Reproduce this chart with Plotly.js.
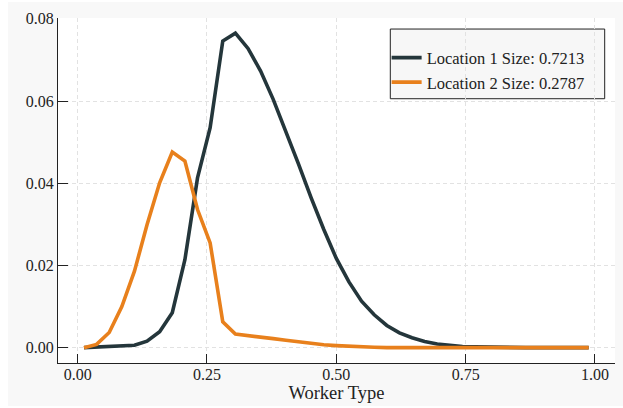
<!DOCTYPE html>
<html>
<head>
<meta charset="utf-8">
<script src="https://cdn.plot.ly/plotly-3.0.1.min.js"></script>
<style>
html, body { margin: 0; padding: 0; background: #ffffff; }
#chart { position: absolute; left: 8px; top: 2px; width: 615px; height: 404px; }
</style>
</head>
<body>
<div id="chart"></div>
<script>
// Worker type grid (x values)
var workerType = [0.0122, 0.0366, 0.0610, 0.0854, 0.1098, 0.1341, 0.1585, 0.1829, 0.2073, 0.2317,
  0.2561, 0.2805, 0.3049, 0.3293, 0.3537, 0.3780, 0.4024, 0.4268, 0.4512, 0.4756,
  0.5000, 0.5244, 0.5488, 0.5732, 0.5976, 0.6220, 0.6463, 0.6707, 0.6951, 0.7195,
  0.7439, 0.7683, 0.7927, 0.8171, 0.8415, 0.8659, 0.8902, 0.9146, 0.9390, 0.9634, 0.9878];

// Location 1 distribution
var location1 = [0.0000, 0.0001, 0.0002, 0.0003, 0.0006, 0.0016, 0.0039, 0.0085, 0.0214, 0.0413,
  0.0535, 0.0746, 0.0765, 0.0728, 0.0673, 0.0604, 0.0528, 0.0447, 0.0365, 0.0288,
  0.0217, 0.0160, 0.0113, 0.0080, 0.0054, 0.0036, 0.0024, 0.0015, 0.0009, 0.0005,
  0.0003, 0.0002, 0.0001, 0.0000, 0.0000, 0.0000, 0.0000, 0.0000, 0.0000, 0.0000, 0.0000];

// Location 2 distribution
var location2 = [0.0000, 0.0008, 0.0037, 0.0100, 0.0186, 0.0299, 0.0401, 0.0476, 0.0454, 0.0336,
  0.0255, 0.0063, 0.0033, 0.0030, 0.0026, 0.0022, 0.0018, 0.0014, 0.0010, 0.0007,
  0.0005, 0.0003, 0.0002, 0.0001, 0.0000, 0.0000, 0.0000, 0.0000, 0.0000, 0.0000,
  0.0000, 0.0000, 0.0000, 0.0000, 0.0000, 0.0000, 0.0000, 0.0000, 0.0000, 0.0000, 0.0000];

var seriesNames = ["Location 1 Size: 0.7213", "Location 2 Size: 0.2787"];
var xTickVals = [0.00, 0.25, 0.50, 0.75, 1.00];
var yTickVals = [0.00, 0.02, 0.04, 0.06, 0.08];
var xTitle = "Worker Type";

var FONT = "'Liberation Serif', 'DejaVu Serif', serif";

var traces = [
  { x: workerType, y: location1, mode: "lines", name: seriesNames[0],
    line: { color: "#24363b", width: 3.6 }, hoverinfo: "skip" },
  { x: workerType, y: location2, mode: "lines", name: seriesNames[1],
    line: { color: "#e8801c", width: 3.6 }, hoverinfo: "skip" }
];

var axisCommon = {
  showline: true, linecolor: "#222222", linewidth: 1, mirror: false,
  ticks: "inside", tickcolor: "#222222", tickwidth: 1,
  showgrid: true, gridcolor: "#e2e2e2", gridwidth: 1, griddash: "4px,3px",
  zeroline: false, tickformat: ".2f",
  tickfont: { family: FONT, size: 16, color: "#222222" }
};

var layout = {
  width: 615, height: 404,
  paper_bgcolor: "#f8f8f8", plot_bgcolor: "#ffffff",
  margin: { l: 50, r: 8, t: 16, b: 43, pad: 0 },
  showlegend: true,
  font: { family: FONT, color: "#222222" },
  xaxis: Object.assign({}, axisCommon, {
    range: [-0.038, 1.0387], tickmode: "array", tickvals: xTickVals, ticklen: 9,
    ticklabelstandoff: -3,
    title: { text: xTitle, font: { family: FONT, size: 18.5, color: "#222222" }, standoff: 2 }
  }),
  yaxis: Object.assign({}, axisCommon, {
    range: [-0.00373, 0.0802], tickmode: "array", tickvals: yTickVals, ticklen: 10
  }),
  legend: {
    x: 0.59, y: 0.935, xanchor: "left", yanchor: "top",
    bgcolor: "rgba(0,0,0,0)", borderwidth: 0,
    font: { family: FONT, size: 16.5, color: "#222222" }
  },
  shapes: [{
    type: "rect", xref: "paper", yref: "paper", layer: "below",
    x0: 0.5966, x1: 0.9815, y0: 0.766, y1: 0.968,
    fillcolor: "#f7f7f7", line: { color: "#222222", width: 1 }
  }]
};

Plotly.newPlot("chart", traces, layout, { staticPlot: true, displayModeBar: false });
</script>
</body>
</html>
